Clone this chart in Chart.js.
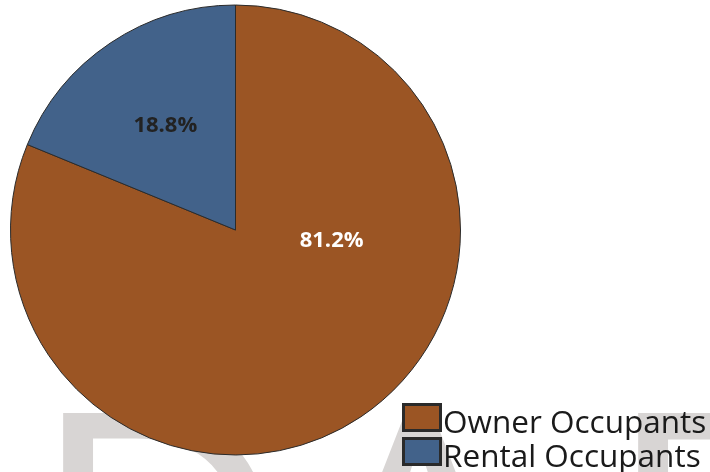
<!DOCTYPE html>
<html>
<head>
<meta charset="utf-8">
<script src="https://cdn.jsdelivr.net/npm/chart.js@4.4.0/dist/chart.umd.min.js"></script>
<style>
  html, body { margin: 0; padding: 0; background: #fff; }
  #wrap { width: 710px; height: 472px; }
</style>
</head>
<body>
<div id="wrap"><canvas id="pie"></canvas></div>
<script>
const categories = ["Owner Occupants", "Rental Occupants"];
const shares = [81.2, 18.8];
const sliceColors = ["#9b5524", "#42628a"];
const labelColors = ["#ffffff", "#222222"];

// faint watermark letters behind the pie
const watermark = {
  id: 'watermark',
  beforeDraw(chart) {
    const ctx = chart.ctx;
    ctx.save();
    ctx.fillStyle = '#d8d5d4';
    ctx.font = '360px "Open Sans"';
    ctx.textBaseline = 'alphabetic';
    ctx.textAlign = 'left';
    [['D', 28], ['A', 305], ['F', 603]].forEach(([ch, x]) => ctx.fillText(ch, x, 670));
    ctx.restore();
  }
};

// percentage text inside each slice
const sliceLabels = {
  id: 'sliceLabels',
  afterDatasetsDraw(chart, args, opts) {
    const ctx = chart.ctx;
    const arcs = chart.getDatasetMeta(0).data;
    ctx.save();
    ctx.font = 'bold 22px "Open Sans"';
    ctx.textAlign = 'center';
    ctx.textBaseline = 'middle';
    arcs.forEach((arc, i) => {
      const p = arc.getProps(['x', 'y', 'startAngle', 'endAngle', 'outerRadius'], true);
      const place = opts.place[i];
      const a = place.angle != null ? place.angle : (p.startAngle + p.endAngle) / 2;
      const r = p.outerRadius * place.dist;
      ctx.fillStyle = labelColors[i];
      ctx.fillText(shares[i].toFixed(1) + '%', p.x + Math.cos(a) * r, p.y + Math.sin(a) * r);
    });
    ctx.restore();
  }
};

// legend in the lower right corner, box right against the text
const cornerLegend = {
  id: 'cornerLegend',
  afterDraw(chart, args, opts) {
    const ctx = chart.ctx;
    ctx.save();
    ctx.font = '31.5px "Open Sans"';
    ctx.textBaseline = 'alphabetic';
    ctx.textAlign = 'left';
    chart.data.labels.forEach((lab, i) => {
      const y = opts.top + i * opts.step;
      ctx.fillStyle = sliceColors[i];
      ctx.fillRect(opts.left, y, 40, 29);
      ctx.strokeStyle = '#2a2a2a';
      ctx.lineWidth = 3;
      ctx.strokeRect(opts.left + 1.5, y + 1.5, 37, 26);
      ctx.fillStyle = '#1a1a1a';
      ctx.fillText(lab, opts.left + 41, y + 30);
    });
    ctx.restore();
  }
};

new Chart(document.getElementById('pie'), {
  type: 'pie',
  data: {
    labels: categories,
    datasets: [{
      data: shares,
      backgroundColor: sliceColors,
      borderColor: '#2b2b2b',
      borderWidth: 1,
      radius: 225
    }]
  },
  options: {
    responsive: true,
    maintainAspectRatio: false,
    animation: false,
    layout: { padding: { left: 10, top: 5, right: 249, bottom: 17 } },
    plugins: {
      legend: { display: false },
      tooltip: { enabled: false },
      sliceLabels: {
        place: [
          { angle: 0.114, dist: 0.43 },
          { angle: null, dist: 0.56 }
        ]
      },
      cornerLegend: { left: 402, top: 403, step: 34 }
    }
  },
  plugins: [watermark, sliceLabels, cornerLegend]
});
</script>
</body>
</html>
